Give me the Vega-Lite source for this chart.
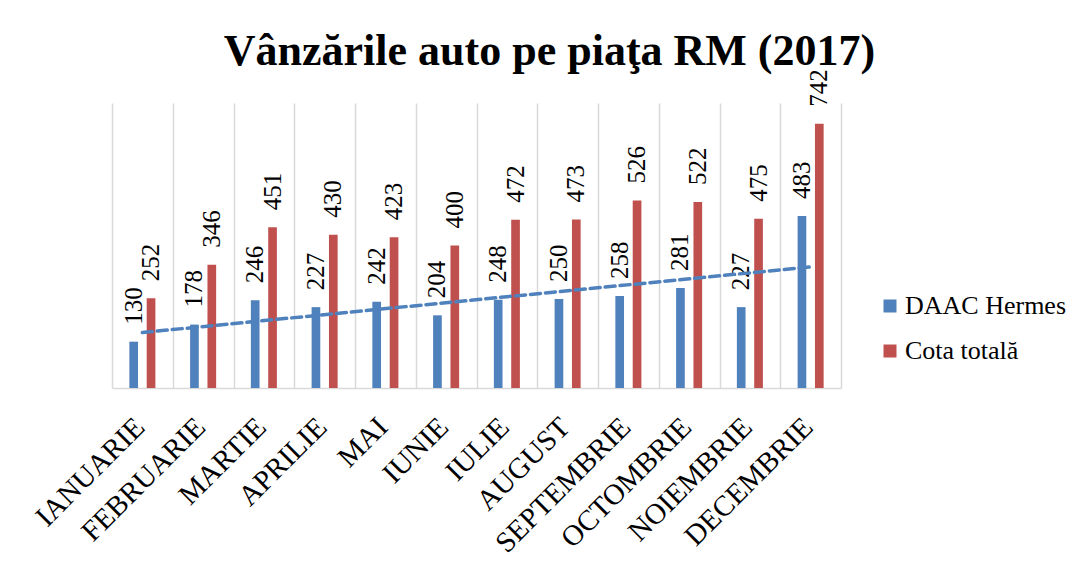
{
  "$schema": "https://vega.github.io/schema/vega-lite/v6.json",
  "autosize": {"type": "none"},
  "width": 729,
  "height": 285,
  "padding": {"left": 112, "top": 103, "right": 243, "bottom": 191},
  "background": "white",
  "title": {
    "text": "Vânzările auto pe piaţa RM (2017)",
    "font": "Liberation Serif",
    "fontSize": 44,
    "fontWeight": "bold",
    "color": "black",
    "anchor": "middle",
    "frame": "group",
    "baseline": "alphabetic",
    "offset": -40,
    "dx": 73
  },
  "config": {
    "view": {"stroke": null},
    "font": "Liberation Serif"
  },
  "data": {
    "values": [
      {"month": "IANUARIE", "i": 1, "series": "DAAC Hermes", "value": 130},
      {"month": "IANUARIE", "i": 1, "series": "Cota totală", "value": 252},
      {"month": "FEBRUARIE", "i": 2, "series": "DAAC Hermes", "value": 178},
      {"month": "FEBRUARIE", "i": 2, "series": "Cota totală", "value": 346},
      {"month": "MARTIE", "i": 3, "series": "DAAC Hermes", "value": 246},
      {"month": "MARTIE", "i": 3, "series": "Cota totală", "value": 451},
      {"month": "APRILIE", "i": 4, "series": "DAAC Hermes", "value": 227},
      {"month": "APRILIE", "i": 4, "series": "Cota totală", "value": 430},
      {"month": "MAI", "i": 5, "series": "DAAC Hermes", "value": 242},
      {"month": "MAI", "i": 5, "series": "Cota totală", "value": 423},
      {"month": "IUNIE", "i": 6, "series": "DAAC Hermes", "value": 204},
      {"month": "IUNIE", "i": 6, "series": "Cota totală", "value": 400},
      {"month": "IULIE", "i": 7, "series": "DAAC Hermes", "value": 248},
      {"month": "IULIE", "i": 7, "series": "Cota totală", "value": 472},
      {"month": "AUGUST", "i": 8, "series": "DAAC Hermes", "value": 250},
      {"month": "AUGUST", "i": 8, "series": "Cota totală", "value": 473},
      {"month": "SEPTEMBRIE", "i": 9, "series": "DAAC Hermes", "value": 258},
      {"month": "SEPTEMBRIE", "i": 9, "series": "Cota totală", "value": 526},
      {"month": "OCTOMBRIE", "i": 10, "series": "DAAC Hermes", "value": 281},
      {"month": "OCTOMBRIE", "i": 10, "series": "Cota totală", "value": 522},
      {"month": "NOIEMBRIE", "i": 11, "series": "DAAC Hermes", "value": 227},
      {"month": "NOIEMBRIE", "i": 11, "series": "Cota totală", "value": 475},
      {"month": "DECEMBRIE", "i": 12, "series": "DAAC Hermes", "value": 483},
      {"month": "DECEMBRIE", "i": 12, "series": "Cota totală", "value": 742}
    ]
  },
  "encoding": {
    "y": {
      "field": "value",
      "type": "quantitative",
      "scale": {"domain": [0, 800], "nice": false, "zero": true},
      "axis": null
    }
  },
  "layer": [
    {
      "encoding": {
        "x": {
          "field": "month",
          "type": "nominal",
          "sort": {"field": "i", "op": "min"},
          "scale": {"paddingInner": 0, "paddingOuter": 0},
          "axis": {
            "title": null,
            "labelAngle": -45,
            "labelAlign": "right",
            "labelBaseline": "middle",
            "labelFont": "Liberation Serif",
            "labelFontSize": 29,
            "labelColor": "black",
            "labelPadding": 34,
            "labelOffset": -3,
            "ticks": false,
            "tickBand": "extent",
            "grid": true,
            "gridColor": "#D9D9D9",
            "gridWidth": 1.5,
            "domainColor": "#D9D9D9",
            "domainWidth": 1.5
          }
        },
        "xOffset": {
          "field": "series",
          "type": "nominal",
          "sort": ["DAAC Hermes", "Cota totală"],
          "scale": {"paddingInner": 0.5, "paddingOuter": 1.15}
        }
      },
      "layer": [
        {
          "mark": {"type": "bar"},
          "encoding": {
            "color": {
              "field": "series",
              "type": "nominal",
              "sort": ["DAAC Hermes", "Cota totală"],
              "scale": {"domain": ["DAAC Hermes", "Cota totală"], "range": ["#4F81BD", "#C0504D"]},
              "legend": {
                "title": null,
                "orient": "none",
                "legendX": 765,
                "legendY": 190,
                "padding": 0,
                "symbolType": "square",
                "symbolSize": 169,
                "symbolStrokeWidth": 0,
                "labelFont": "Liberation Serif",
                "labelFontSize": 26,
                "labelColor": "black",
                "labelOffset": 2,
                "labelLimit": 400,
                "rowPadding": 19
              }
            }
          }
        },
        {
          "mark": {
            "type": "text",
            "angle": 270,
            "align": "left",
            "baseline": "middle",
            "dx": 17,
            "font": "Liberation Serif",
            "fontSize": 25,
            "color": "black"
          },
          "encoding": {
            "text": {"field": "value", "type": "quantitative"}
          }
        }
      ]
    },
    {
      "transform": [
        {"filter": "datum.series == 'DAAC Hermes'"},
        {"regression": "value", "on": "i"}
      ],
      "mark": {
        "type": "line",
        "color": "#4F81BD",
        "strokeWidth": 3.5,
        "strokeDash": [10, 5],
        "strokeCap": "round"
      },
      "encoding": {
        "x": {
          "field": "i",
          "type": "quantitative",
          "scale": {"domain": [0.5, 12.5], "nice": false, "zero": false},
          "axis": null
        }
      }
    }
  ],
  "resolve": {"scale": {"x": "independent"}}
}
